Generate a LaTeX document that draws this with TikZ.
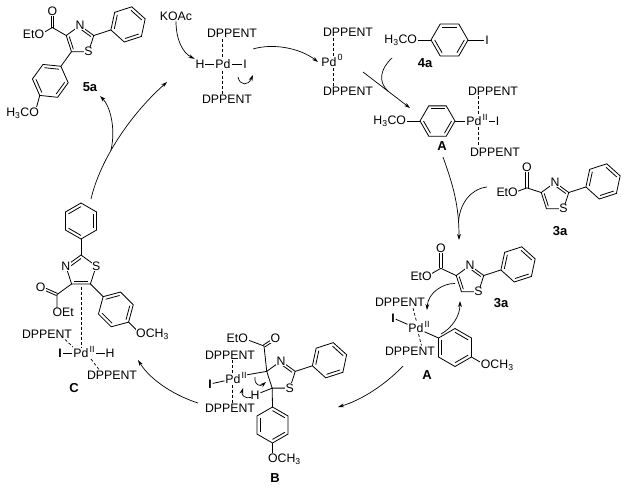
\documentclass[tikz,border=0pt]{standalone}
\usepackage{fontspec}
\setmainfont{Liberation Sans}
\usetikzlibrary{calc,arrows.meta}
\newcommand\fs{\fontsize{12.3}{14}\selectfont}
\newcommand\fsb{\fontsize{13}{15}\selectfont\bfseries}
\newcommand\fss{\fontsize{9}{10}\selectfont}
\newcommand\mkring[5]{%
  \coordinate (#1c) at (#2);
  \foreach \k in {1,...,#5}{\coordinate (#1\k) at ($(#2)+({#4+(\k-1)*360/#5}:#3pt)$);}}
\newcommand\hexd[1]{\draw (#11)--(#12)--(#13)--(#14)--(#15)--(#16)--cycle;}
\newcommand\pentd[1]{\draw (#11)--(#12)--(#13)--(#14)--(#15)--cycle;}
\newcommand\inb[4]{\draw ($(#1)!#4!(#2)$) -- ($(#1)!#4!(#3)$);}
\newcommand\dbond[2]{\draw ($(#1)!1.2pt!90:(#2)$) -- ($(#2)!1.2pt!-90:(#1)$);
  \draw ($(#1)!1.2pt!-90:(#2)$) -- ($(#2)!1.2pt!90:(#1)$);}
\begin{document}
\begin{tikzpicture}[x=1pt,y=-1pt,line width=0.8pt,
  lab/.style={fill=white,inner sep=0.6pt,font=\fs},
  txt/.style={inner sep=0.6pt,font=\fs},
  blab/.style={inner sep=0.6pt,font=\fsb},
  bI/.style={fill=white,inner sep=0.6pt,font=\fs\bfseries},
  sup/.style={inner sep=0.2pt,font=\fss},
  dsh/.style={dash pattern=on 3pt off 2pt,line width=0.7pt},
  arr/.style={-{Stealth[length=6pt,width=3.8pt]},line width=0.7pt}]
\useasboundingbox[fill=white] (0,0) rectangle (631,491);

%% ---------------- 5a ----------------
\mkring{ta}{80,40}{14.5}{90}{5}
\pentd{ta}\inb{tac}{ta1}{ta5}{0.78}\inb{tac}{ta2}{ta3}{0.78}
\coordinate (pac) at ($(ta5)+(18:36pt)$);
\mkring{pa}{pac}{18}{198}{6}
\hexd{pa}\draw (ta5)--(pa1);
\inb{pac}{pa2}{pa3}{0.8}\inb{pac}{pa4}{pa5}{0.8}\inb{pac}{pa6}{pa1}{0.8}
\coordinate (ca) at ($(ta2)+(150:16pt)$);
\coordinate (oa) at ($(ca)+(90:16pt)$);
\coordinate (ea) at ($(ca)+(210:14pt)$);
\draw (ta2)--(ca)--(ea);\dbond{ca}{oa}
\coordinate (aac) at ($(ta3)+(-126:36pt)$);
\mkring{aa}{aac}{18}{54}{6}
\hexd{aa}\draw (ta3)--(aa1);
\inb{aac}{aa1}{aa2}{0.8}\inb{aac}{aa3}{aa4}{0.8}\inb{aac}{aa5}{aa6}{0.8}
\coordinate (oma) at (35,113);
\draw (aa4)--(oma);
\node[lab] (Na) at (ta1) {N};
\node[lab] (Sa) at (ta4) {S};
\node[lab] (Oa) at (oa) {O};
\node[lab,anchor=east] (EtOa) at ($(ea)+(4.9pt,0)$) {EtO};
\node[lab,anchor=east] (MeOa) at ($(oma)+(4.9pt,0)$) {H\textsubscript{3}CO};
\node[blab] (l5a) at (90,87) {5a};

%% ---------------- KOAc / H-Pd-I ----------------
\node[txt] (koac) at (176,16) {KOAc};
\node[txt] (H1) at (200,64) {H};
\node[txt] (Pd1) at (223,64) {Pd};
\node[txt] (I1) at (245,64) {I};
\draw (H1)--(Pd1);\draw (Pd1)--(I1);
\node[txt] (dp1t) at (232,33.5) {DPPENT};
\node[txt] (dp1b) at (227,99) {DPPENT};
\draw[dsh] (222.5,39)--(222.5,57.5);
\draw[dsh] (222.5,70.5)--(222.5,93.5);
\draw[arr] (238,77) .. controls (240,86) and (248,86) .. (253,75);
\draw[arr] (koac.south) .. controls +(0,18) and +(-12,-6) .. (H1.north west);
\coordinate (s1) at (253,49);
\coordinate (e1) at (318,62);
\draw[arr] (s1) .. controls (273,43) and (300,48) .. (e1);

%% ---------------- Pd0 ----------------
\node[txt] (Pd0) at (329,62) {Pd};
\node[sup,anchor=south west] (sup0) at ([xshift=-0.6pt,yshift=0.5pt]Pd0.east) {0};
\node[txt] (dp0t) at (348,32) {DPPENT};
\node[txt] (dp0b) at (348,91) {DPPENT};
\draw[dsh] (333,38)--(333,56.5);
\draw[dsh] (333,68)--(333,86);

%% ---------------- 4a ----------------
\node[lab,anchor=east] (h4a) at (418,40) {H\textsubscript{3}CO};
\mkring{ra}{449.5,40}{18.5}{0}{6}
\hexd{ra}\draw (h4a.east)--(ra4);
\inb{rac}{ra2}{ra3}{0.8}\inb{rac}{ra4}{ra5}{0.8}\inb{rac}{ra6}{ra1}{0.8}
\node[txt] (i4a) at (487,40) {I};
\draw (ra1)--(i4a);
\node[blab] (l4a) at (425,63) {4a};

%% Pd0 -> A
\coordinate (s2) at (363,72);
\coordinate (e2) at (410,108);
\coordinate (j2) at (388,91.1);
\draw[arr] (s2)--(e2);
\draw[line width=0.7pt] (392,58) .. controls (380,69) and (378,82) .. (j2);

%% ---------------- A (Ar-Pd-I) ----------------
\node[lab,anchor=east] (hA) at (407,121) {H\textsubscript{3}CO};
\mkring{rb}{437.5,121}{17.5}{0}{6}
\hexd{rb}\draw (hA.east)--(rb4);
\inb{rbc}{rb2}{rb3}{0.8}\inb{rbc}{rb4}{rb5}{0.8}\inb{rbc}{rb6}{rb1}{0.8}
\node[txt] (PdA) at (474,121) {Pd};
\node[sup,anchor=south west] (supA) at ([xshift=-0.6pt]PdA.east) {II};
\draw (rb1)--(PdA);
\node[txt] (iA) at (497.5,121) {I};
\draw (489,121)--(iA);
\node[txt] (dpAt) at (493,91) {DPPENT};
\node[txt] (dpAb) at (495,152) {DPPENT};
\draw[dsh] (478,96)--(478,115.5);
\draw[dsh] (478,127)--(478,147);
\node[blab] (lA1) at (442,146) {A};

%% A -> complex A
\coordinate (s3) at (443,157);
\coordinate (e3) at (459,240);
\coordinate (j3) at (458.5,223);
\draw[arr] (s3) .. controls (453,185) and (459,205) .. (e3);
\draw[line width=0.7pt] (487,187) .. controls (470,189) and (459,205) .. (j3);

%% ---------------- 3a ----------------
\mkring{tb}{555,197}{14.5}{90}{5}
\pentd{tb}\inb{tbc}{tb1}{tb5}{0.78}\inb{tbc}{tb2}{tb3}{0.78}
\coordinate (pbc) at ($(tb5)+(18:36pt)$);
\mkring{pb}{pbc}{18}{198}{6}
\hexd{pb}\draw (tb5)--(pb1);
\inb{pbc}{pb2}{pb3}{0.8}\inb{pbc}{pb4}{pb5}{0.8}\inb{pbc}{pb6}{pb1}{0.8}
\coordinate (cb) at ($(tb2)+(162:15pt)$);
\coordinate (ob) at ($(cb)+(90:21pt)$);
\coordinate (eb) at ($(cb)+(200:14pt)$);
\draw (tb2)--(cb)--(eb);\dbond{cb}{ob}
\node[lab] (Nb) at (tb1) {N};
\node[lab] (Sb) at (tb4) {S};
\node[lab] (Ob) at (ob) {O};
\node[lab,anchor=east] (EtOb) at ($(eb)+(4.9pt,0)$) {EtO};
\node[blab] (l3a1) at (560,231) {3a};

%% ---------------- complex A ----------------
\mkring{tc}{470,280}{14.5}{90}{5}
\pentd{tc}\inb{tcc}{tc1}{tc5}{0.78}\inb{tcc}{tc2}{tc3}{0.78}
\coordinate (pcc) at ($(tc5)+(18:36pt)$);
\mkring{pc}{pcc}{18}{198}{6}
\hexd{pc}\draw (tc5)--(pc1);
\inb{pcc}{pc2}{pc3}{0.8}\inb{pcc}{pc4}{pc5}{0.8}\inb{pcc}{pc6}{pc1}{0.8}
\coordinate (cc) at ($(tc2)+(155:17pt)$);
\coordinate (oc) at ($(cc)+(90:20pt)$);
\coordinate (ec) at ($(cc)+(210:15pt)$);
\draw (tc2)--(cc)--(ec);\dbond{cc}{oc}
\node[lab] (Nc) at (tc1) {N};
\node[lab] (Sc) at (tc4) {S};
\node[lab] (Oc) at (oc) {O};
\node[lab,anchor=east] (EtOc) at ($(ec)+(4.9pt,0)$) {EtO};
\node[blab] (l3a2) at (501,303) {3a};
\node[txt] (PdB) at (416,328) {Pd};
\node[sup,anchor=south west] (supB) at ([xshift=-0.6pt]PdB.east) {II};
\node[bI] (IB) at (393,318) {I};
\draw (IB)--(PdB);
\node[txt] (dpBt) at (400,302) {DPPENT};
\node[txt] (dpBb) at (410,351) {DPPENT};
\draw[dsh] (413,308)--(416.5,321.5);
\draw[dsh] (418.5,334)--(421.5,345.5);
\mkring{ac}{455,347.5}{19}{150}{6}
\hexd{ac}\draw (PdB)--(ac1);
\inb{acc}{ac1}{ac2}{0.8}\inb{acc}{ac3}{ac4}{0.8}\inb{acc}{ac5}{ac6}{0.8}
\coordinate (omc) at ($(ac4)+(330:16pt)$);
\draw (ac4)--(omc);
\node[lab,anchor=west] (MeOc) at ($(omc)+(-5.4pt,0)$) {OCH\textsubscript{3}};
\draw[arr] (455,283.5) .. controls (444,283) and (428,292) .. (427,310);
\draw[arr] (441,334) .. controls (452,328) and (460,316) .. (460,301);
\node[blab] (lA2) at (427,375) {A};

%% complex A -> B
\coordinate (s4) at (403,366);
\coordinate (e4) at (338,407);
\draw[arr] (s4) .. controls (386,384) and (362,400) .. (e4);

%% ---------------- B ----------------
\mkring{td}{281,376}{15}{90}{5}
\pentd{td}\inb{tdc}{td1}{td5}{0.78}
\coordinate (pdc) at ($(td5)+(18:36pt)$);
\mkring{pd}{pdc}{18}{198}{6}
\hexd{pd}\draw (td5)--(pd1);
\inb{pdc}{pd2}{pd3}{0.8}\inb{pdc}{pd4}{pd5}{0.8}\inb{pdc}{pd6}{pd1}{0.8}
\coordinate (cd) at (264,346);
\coordinate (od) at (275.5,338.5);
\coordinate (ed) at (244,338.5);
\draw (td2)--(cd)--(ed);\dbond{cd}{od}
\mkring{ad}{272.5,425}{18}{90}{6}
\hexd{ad}\draw (td3)--(ad1);
\inb{adc}{ad2}{ad3}{0.8}\inb{adc}{ad4}{ad5}{0.8}\inb{adc}{ad6}{ad1}{0.8}
\coordinate (omd) at ($(ad4)+(270:16pt)$);
\draw (ad4)--(omd);
\node[lab] (Nd) at (td1) {N};
\node[lab] (Sd) at (td4) {S};
\node[lab] (Od) at (od) {O};
\node[lab,anchor=east] (EtOd) at ($(ed)+(4.9pt,0)$) {EtO};
\node[lab,anchor=west] (MeOd) at ($(omd)+(-5.4pt,0)$) {OCH\textsubscript{3}};
\node[txt] (PdC) at (233,379) {Pd};
\node[sup,anchor=south west] (supC) at ([xshift=-0.6pt]PdC.east) {II};
\draw (supC)--(td2);
\node[bI] (IC) at (210,384) {I};
\draw (IC)--(PdC);
\node[txt] (dpCt) at (230,355) {DPPENT};
\node[txt] (dpCb) at (230,408) {DPPENT};
\draw[dsh] (232,360)--(232,373.5);
\draw[dsh] (232,384.5)--(232,403);
\node[lab] (HC) at (255,395) {H};
\draw (td3)--(HC);
\draw[arr] (255,377) .. controls (254,385) and (260,387) .. (266,382);
\draw[arr] (251,397.5) .. controls (245,399) and (241,395) .. (243,388);
\node[blab] (lB) at (275,478) {B};

%% B -> C
\coordinate (s5) at (198,403);
\coordinate (e5) at (138,360);
\draw[arr] (s5) .. controls (176,396) and (151,381) .. (e5);

%% ---------------- C ----------------
\mkring{pe}{81,221}{18}{90}{6}
\hexd{pe}
\inb{pec}{pe1}{pe2}{0.8}\inb{pec}{pe3}{pe4}{0.8}\inb{pec}{pe5}{pe6}{0.8}
\mkring{te}{81,271}{16}{90}{5}
\pentd{te}\draw (pe4)--(te1);
\inb{tec}{te1}{te2}{0.78}\inb{tec}{te3}{te4}{0.78}
\coordinate (ce) at ($(te3)+(216:18pt)$);
\coordinate (oe) at ($(ce)+(156:18pt)$);
\coordinate (ee) at ($(ce)+(270:18pt)$);
\draw (te3)--(ce)--(ee);\dbond{ce}{oe}
\coordinate (aec) at ($(te4)+(-45:36pt)$);
\mkring{ae}{aec}{18}{135}{6}
\hexd{ae}\draw (te4)--(ae1);
\inb{aec}{ae2}{ae3}{0.8}\inb{aec}{ae4}{ae5}{0.8}\inb{aec}{ae6}{ae1}{0.8}
\coordinate (ome) at ($(ae4)+(-45:17pt)$);
\draw (ae4)--(ome);
\node[lab] (Ne) at (te2) {N};
\node[lab] (Se) at (te5) {S};
\node[lab] (Oe) at (oe) {O};
\node[lab,anchor=west] (OEte) at ($(ee)+(-5.4pt,0)$) {OEt};
\node[lab,anchor=west] (MeOe) at ($(ome)+(-5.4pt,0)$) {OCH\textsubscript{3}};
\node[txt] (PdD) at (81,353) {Pd};
\node[sup,anchor=south west] (supD) at ([xshift=-0.6pt]PdD.east) {II};
\node[bI] (ID) at (60,353) {I};
\draw (ID)--(PdD);
\node[txt] (HD) at (110,353) {H};
\draw (96,353)--(HD);
\node[txt] (dpDt) at (47,334) {DPPENT};
\node[txt] (dpDb) at (112,375) {DPPENT};
\draw[dsh] (81,286.5)--(81,347);
\draw[dsh] (65,339.5)--(73,347);
\draw[dsh] (91,359)--(99,369.5);
\node[blab] (lC) at (74,388) {C};

%% C -> H-Pd-I and 5a
\coordinate (s6) at (91,199);
\coordinate (e6) at (167,82);
\coordinate (j6) at (111,150);
\coordinate (e7) at (100,96);
\draw[arr] (s6) .. controls (100,160) and (130,115) .. (e6);
\draw[arr] (j6) .. controls (116,128) and (110,106) .. (e7);
\end{tikzpicture}
\end{document}
